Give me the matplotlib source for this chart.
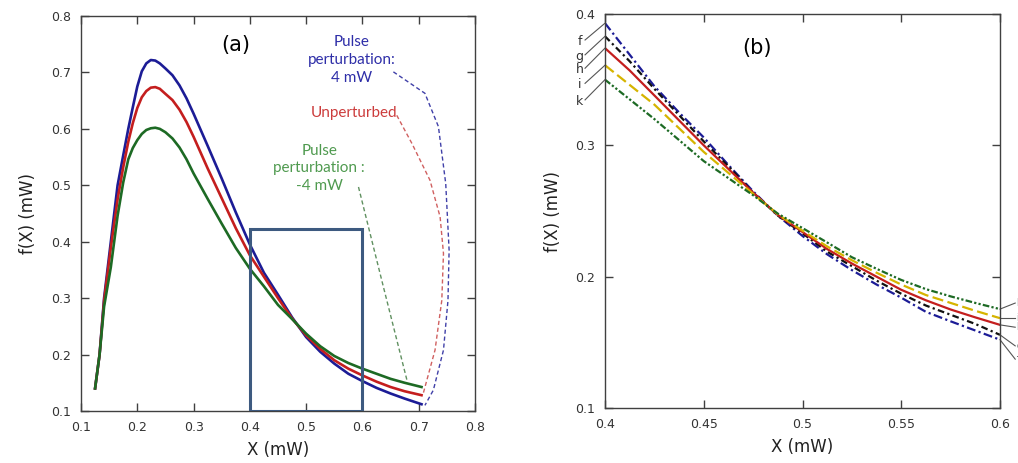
import matplotlib
matplotlib.use("Agg")
import matplotlib.pyplot as plt
from matplotlib.patches import Rectangle

# ---- panel (a): full curves ----
xa = [0.125, 0.133, 0.141, 0.153, 0.165, 0.175, 0.184, 0.192, 0.200, 0.208,
      0.216, 0.224, 0.232, 0.240, 0.25, 0.2625, 0.275, 0.2875, 0.30, 0.325,
      0.35, 0.375, 0.40, 0.425, 0.45, 0.475, 0.50, 0.525, 0.55, 0.575,
      0.60, 0.625, 0.65, 0.675, 0.705]
fa_pos = [0.14, 0.20, 0.30, 0.40, 0.50, 0.553, 0.600, 0.638, 0.675, 0.702,
          0.716, 0.722, 0.721, 0.716, 0.707, 0.695, 0.677, 0.654, 0.627, 0.570,
          0.512, 0.452, 0.395, 0.345, 0.306, 0.266, 0.231, 0.205, 0.184, 0.166,
          0.153, 0.141, 0.131, 0.122, 0.112]
fa_unp = [0.14, 0.20, 0.295, 0.39, 0.475, 0.532, 0.577, 0.610, 0.637, 0.656,
          0.667, 0.673, 0.674, 0.671, 0.662, 0.651, 0.634, 0.612, 0.586, 0.530,
          0.477, 0.424, 0.376, 0.338, 0.300, 0.264, 0.234, 0.210, 0.190, 0.175,
          0.163, 0.152, 0.1425, 0.135, 0.128]
fa_neg = [0.14, 0.20, 0.285, 0.355, 0.446, 0.505, 0.546, 0.566, 0.580, 0.591,
          0.598, 0.601, 0.602, 0.600, 0.594, 0.583, 0.567, 0.546, 0.521, 0.476,
          0.432, 0.389, 0.352, 0.321, 0.288, 0.263, 0.237, 0.2148, 0.1975, 0.185,
          0.175, 0.166, 0.157, 0.150, 0.1425]

# leader curves from the labels to the curve ends
lead_pos_x = [0.655, 0.711, 0.735, 0.748, 0.754, 0.752, 0.744, 0.726, 0.711]
lead_pos_y = [0.701, 0.663, 0.604, 0.503, 0.385, 0.296, 0.208, 0.137, 0.110]
lead_unp_x = [0.661, 0.688, 0.720, 0.738, 0.744, 0.741, 0.729, 0.708]
lead_unp_y = [0.624, 0.574, 0.509, 0.444, 0.379, 0.296, 0.208, 0.131]
lead_neg_x = [0.593, 0.636, 0.679]
lead_neg_y = [0.497, 0.325, 0.155]

# ---- panel (b): zoom 0.4 - 0.6 ----
xb = [0.400, 0.4125, 0.425, 0.4375, 0.450, 0.4625, 0.475, 0.4875, 0.500,
      0.5125, 0.525, 0.5375, 0.550, 0.5625, 0.575, 0.5875, 0.600]
fb_f = [0.393, 0.369, 0.345, 0.325, 0.306, 0.285, 0.265, 0.2465, 0.231,
        0.217, 0.205, 0.194, 0.184, 0.1732, 0.166, 0.159, 0.152]
fb_g = [0.383, 0.364, 0.343, 0.323, 0.303, 0.284, 0.264, 0.2465, 0.233,
        0.219, 0.208, 0.197, 0.187, 0.178, 0.171, 0.164, 0.1557]
fb_h = [0.374, 0.357, 0.338, 0.319, 0.300, 0.282, 0.264, 0.247, 0.234,
        0.221, 0.210, 0.200, 0.190, 0.182, 0.175, 0.169, 0.1633]
fb_i = [0.361, 0.346, 0.331, 0.313, 0.295, 0.279, 0.263, 0.2475, 0.235,
        0.223, 0.2125, 0.203, 0.194, 0.186, 0.180, 0.174, 0.1684]
fb_k = [0.350, 0.335, 0.320, 0.304, 0.288, 0.275, 0.262, 0.248, 0.237,
        0.226, 0.2148, 0.206, 0.1975, 0.1905, 0.185, 0.180, 0.1753]
labels_b = ["f", "g", "h", "i", "k"]
left_lab_y = [0.3789, 0.3675, 0.3575, 0.3460, 0.3335]
left_line_y = [0.3802, 0.3689, 0.3587, 0.3472, 0.3346]
right_line_y = [0.1372, 0.1473, 0.1615, 0.1684, 0.1799]

BLUE = "#1c1c96"
RED = "#c41e1e"
GREEN = "#1d6a24"
BLACK = "#111111"
YELLOW = "#d6b400"
SPINE = "#404040"

fig = plt.figure(figsize=(10.18, 4.63), dpi=100)
ax1 = fig.add_axes([81 / 1018, 52 / 463, 394 / 1018, 395 / 463])
ax2 = fig.add_axes([605 / 1018, 55 / 463, 395 / 1018, 394 / 463])

for ax in (ax1, ax2):
    for s in ax.spines.values():
        s.set_color(SPINE)
        s.set_linewidth(1.0)
    ax.tick_params(direction="in", length=6, width=1, color=SPINE,
                   top=True, right=True, labelsize=9, labelcolor="#333333", pad=7)
    ax.set_xlabel("X (mW)", fontsize=12, color="#222222", labelpad=5)
    ax.set_ylabel("f(X) (mW)", fontsize=12, color="#222222", labelpad=10)

# panel (a)
ax1.plot(xa, fa_pos, color=BLUE, lw=1.9)
ax1.plot(xa, fa_unp, color=RED, lw=1.9)
ax1.plot(xa, fa_neg, color=GREEN, lw=1.9)
ax1.plot(lead_pos_x, lead_pos_y, color="#4040a8", lw=1, ls=(0, (3, 2)))
ax1.plot(lead_unp_x, lead_unp_y, color="#d06060", lw=1, ls=(0, (3, 2)))
ax1.plot(lead_neg_x, lead_neg_y, color="#609060", lw=1, ls=(0, (3, 2)))
ax1.add_patch(Rectangle((0.4, 0.1), 0.2, 0.323, fill=False,
                        edgecolor="#3d5a80", lw=2.2, zorder=5))
ax1.text(0.581, 0.722, "Pulse\nperturbation:\n4 mW", color="#2e2ea8",
         ha="center", va="center", fontsize=11, family="Lato", linespacing=1.35)
ax1.text(0.585, 0.628, "Unperturbed", color="#cc3c3c", ha="center", va="center",
         fontsize=11, family="Lato")
ax1.text(0.523, 0.530, "Pulse\nperturbation :\n-4 mW", color="#4f9a4f",
         ha="center", va="center", fontsize=11, family="Lato", linespacing=1.35)
ax1.text(0.3745, 0.748, "(a)", fontsize=15, ha="center", va="center")
ax1.set_xlim(0.1, 0.8)
ax1.set_ylim(0.1, 0.8)
ax1.set_xticks([0.1, 0.2, 0.3, 0.4, 0.5, 0.6, 0.7, 0.8])
ax1.set_xticklabels(["0.1", "0.2", "0.3", "0.4", "0.5", "0.6", "0.7", "0.8"])
ax1.set_yticks([0.1, 0.2, 0.3, 0.4, 0.5, 0.6, 0.7, 0.8])
ax1.set_yticklabels(["0.1", "0.2", "0.3", "0.4", "0.5", "0.6", "0.7", "0.8"])

# panel (b)
ax2.plot(xb, fb_f, color=BLUE, lw=1.6, ls=(0, (4, 1.5, 1, 1.5)))
ax2.plot(xb, fb_g, color=BLACK, lw=1.6, ls=(0, (3, 1.5, 1, 1.5)))
ax2.plot(xb, fb_h, color=RED, lw=1.6)
ax2.plot(xb, fb_i, color=YELLOW, lw=1.6, ls=(0, (5, 2)))
ax2.plot(xb, fb_k, color=GREEN, lw=1.6, ls=(0, (3, 1, 1, 1, 1, 1)))

starts = [fb_f[0], fb_g[0], fb_h[0], fb_i[0], fb_k[0]]
ends = [fb_f[-1], fb_g[-1], fb_h[-1], fb_i[-1], fb_k[-1]]
for lab, ly, lny, s in zip(labels_b, left_lab_y, left_line_y, starts):
    ax2.plot([0.3899, 0.4], [lny, s], color="#555555", lw=0.8, clip_on=False)
    ax2.text(0.3872, ly, lab, fontsize=9, ha="center", va="center", color="#333333")
# right-hand labels sit at the figure edge and are cut off, as in the source
for lab, ry, e in zip(labels_b, right_line_y, ends):
    ax2.plot([0.6, 0.6077], [e, ry], color="#555555", lw=0.8, clip_on=False)
    ax2.text(0.6083, ry, lab, fontsize=7, ha="left", va="center", color="#333333")

ax2.text(0.477, 0.374, "(b)", fontsize=15, ha="center", va="center")
ax2.set_xlim(0.4, 0.6)
ax2.set_ylim(0.1, 0.4)
ax2.set_xticks([0.4, 0.45, 0.5, 0.55, 0.6])
ax2.set_xticklabels(["0.4", "0.45", "0.5", "0.55", "0.6"])
ax2.set_yticks([0.1, 0.2, 0.3, 0.4])
ax2.set_yticklabels(["0.1", "0.2", "0.3", "0.4"])

fig.savefig("out.png", dpi=100)
